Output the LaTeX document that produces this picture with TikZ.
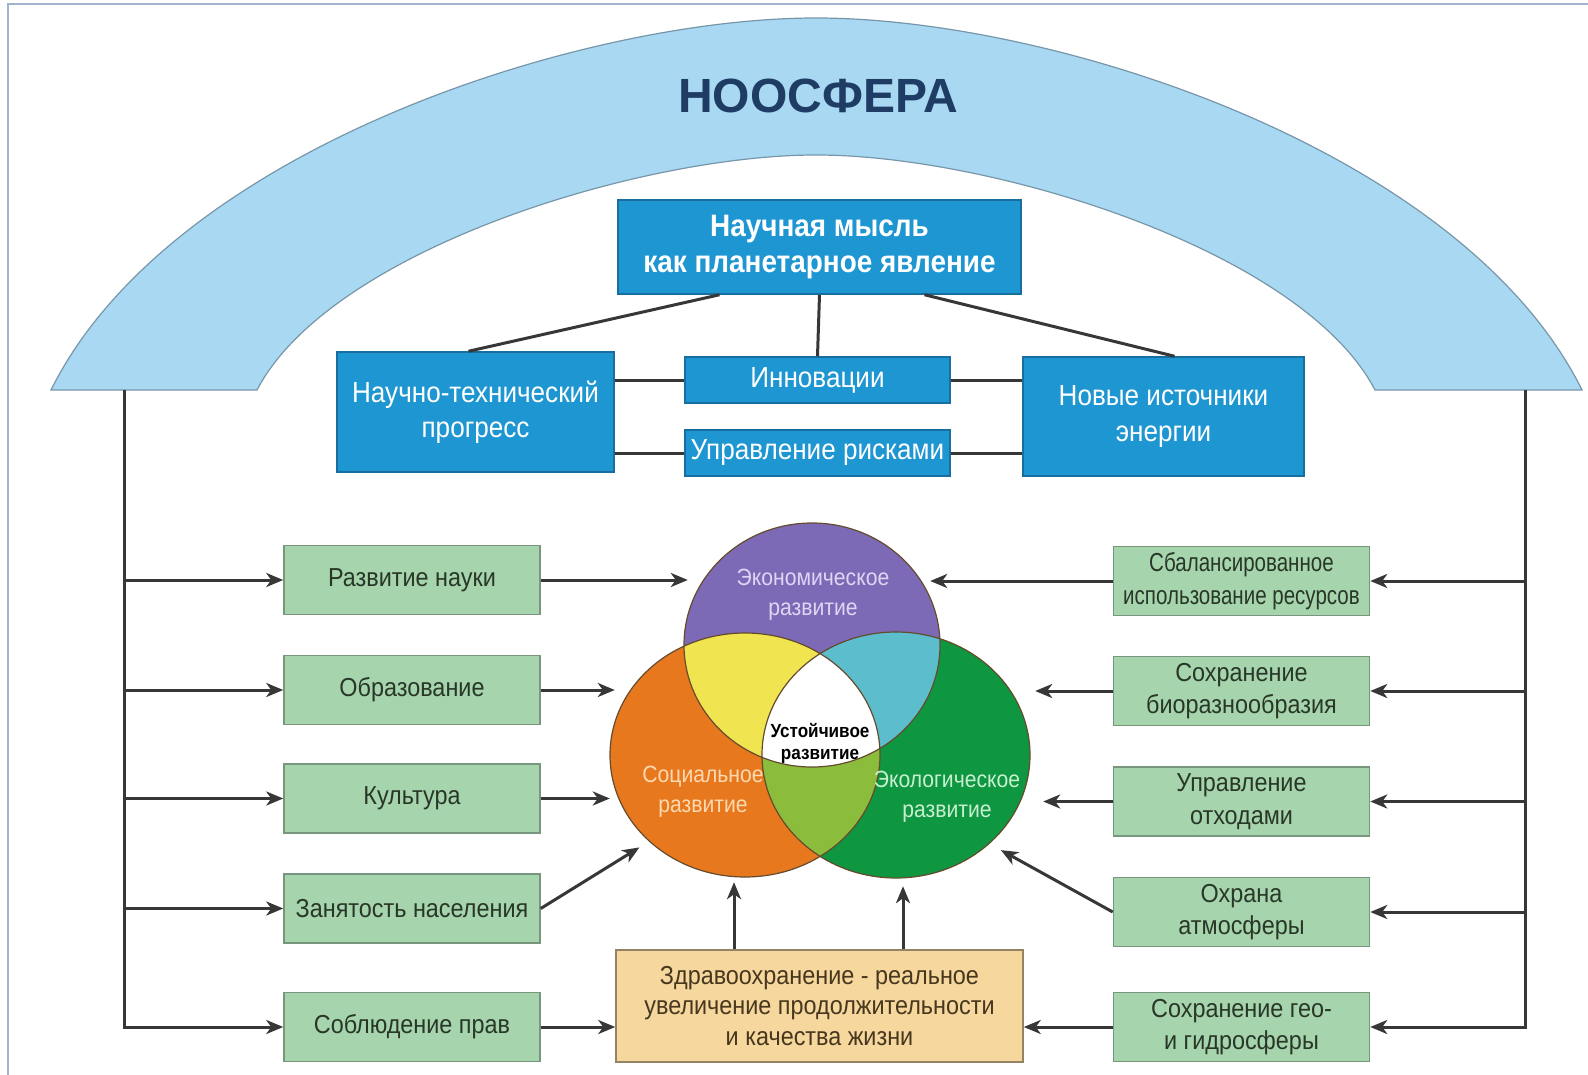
\documentclass[tikz,border=0pt]{standalone}
\usepackage{fontspec}
\setmainfont{Liberation Sans}
\newfontfamily\narrowfont[FakeStretch=0.9]{Liberation Sans}
\newfontfamily\narrowerfont[FakeStretch=0.79]{Liberation Sans}
\usetikzlibrary{arrows.meta,positioning,calc,shapes.geometric}

\definecolor{archblue}{RGB}{168,216,242}
\definecolor{archline}{RGB}{120,150,170}
\definecolor{boxblue}{RGB}{30,150,210}
\definecolor{boxline}{RGB}{25,110,160}
\definecolor{boxgreen}{RGB}{166,212,173}
\definecolor{greenline}{RGB}{120,150,125}
\definecolor{greentxt}{RGB}{40,55,40}
\definecolor{boxtan}{RGB}{246,216,158}
\definecolor{tanline}{RGB}{150,130,100}
\definecolor{tantxt}{RGB}{70,55,30}
\definecolor{wirecol}{RGB}{55,55,55}
\definecolor{ecocol}{RGB}{124,106,182}
\definecolor{soccol}{RGB}{232,120,30}
\definecolor{envcol}{RGB}{14,150,65}
\definecolor{yelcol}{RGB}{240,228,80}
\definecolor{cyancol}{RGB}{92,190,205}
\definecolor{limecol}{RGB}{140,188,60}
\definecolor{vennline}{RGB}{100,75,45}
\definecolor{ecotxt}{RGB}{222,214,245}
\definecolor{soctxt}{RGB}{252,217,176}
\definecolor{envtxt}{RGB}{200,240,208}
\definecolor{titlecol}{RGB}{30,60,100}
\definecolor{framecol}{RGB}{160,180,205}

\begin{document}
\begin{tikzpicture}[x=1pt,y=-1pt,
    bluebox/.style={draw=boxline,line width=1.5pt,fill=boxblue,text=white,align=center,
      inner sep=0pt,font=\narrowfont\fontsize{29}{35.5}\selectfont},
    greenbox/.style={draw=greenline,line width=1.5pt,fill=boxgreen,text=greentxt,align=center,
      inner sep=0pt,minimum width=256pt,minimum height=69pt,font=\narrowfont\fontsize{26}{32.4}\selectfont},
    wire/.style={draw=wirecol,line width=3pt},
    arr/.style={wire,-{Stealth[length=17pt,width=14pt,inset=5pt]}},
    venn/.style={ellipse,inner sep=0pt},
    vennlbl/.style={align=center,font=\narrowfont\fontsize{23.5}{30}\selectfont}]
  \useasboundingbox (0,0) rectangle (1588,1075);
  \draw[framecol,line width=2pt] (8,1075) -- (8,4.5) -- (1588,4.5);

  % arch
  \draw[draw=archline,fill=archblue,line width=1.2pt]
    (51,390) .. controls (170,150) and (580,18) .. (816,18)
    .. controls (1053,18) and (1463,150) .. (1582,390)
    -- (1375,390) .. controls (1302,250) and (992,155) .. (816,155)
    .. controls (640,155) and (330,250) .. (257,390) -- cycle;
  \node[font=\bfseries\fontsize{48}{50}\selectfont,text=titlecol] (noos) at (818,96) {НООСФЕРА};
  \coordinate (lt) at (124,390);
  \coordinate (rt) at (1525,390);

  % blue boxes
  \node[bluebox,font=\narrowfont\bfseries\fontsize{31}{35.5}\selectfont,
    minimum width=403pt,minimum height=94pt] (mysl) at (819.5,247) {Научная мысль\\как планетарное явление};
  \node[bluebox,minimum width=277pt,minimum height=120pt] (ntp) at (475.5,412) {Научно-технический\\прогресс};
  \node[bluebox,minimum width=265pt,minimum height=46pt] (innov) at (817.5,380) {Инновации};
  \node[bluebox,minimum width=265pt,minimum height=46pt] (risk) at (817.5,453) {Управление рисками};
  \node[bluebox,minimum width=281pt,minimum height=119pt] (energ) at (1163.5,416.5) {Новые источники\\энергии};

  \draw[wire] ([xshift=-100pt]mysl.south) -- ([xshift=-7pt]ntp.north);
  \draw[wire] (mysl.south) -- (innov.north);
  \draw[wire] ([xshift=105pt]mysl.south) -- ([xshift=11pt]energ.north);
  \draw[wire] (innov.west -| ntp.east) -- (innov.west);
  \draw[wire] (risk.west -| ntp.east) -- (risk.west);
  \draw[wire] (innov.east) -- (innov.east -| energ.west);
  \draw[wire] (risk.east) -- (risk.east -| energ.west);

  % green boxes
  \node[greenbox] (nauka) at (412,580) {Развитие науки};
  \node[greenbox] (obraz) at (412,690) {Образование};
  \node[greenbox] (kult) at (412,798.5) {Культура};
  \node[greenbox] (zan) at (412,908.5) {Занятость населения};
  \node[greenbox] (prava) at (412,1027) {Соблюдение прав};
  \node[greenbox,font=\narrowerfont\fontsize{26}{32.4}\selectfont] (resurs) at (1241.5,581) {Сбалансированное\\использование ресурсов};
  \node[greenbox] (bio) at (1241.5,691) {Сохранение\\биоразнообразия};
  \node[greenbox] (othod) at (1241.5,801.5) {Управление\\отходами};
  \node[greenbox] (atm) at (1241.5,912) {Охрана\\атмосферы};
  \node[greenbox] (geo) at (1241.5,1027) {Сохранение гео-\\и гидросферы};
  \node[draw=tanline,line width=1.5pt,fill=boxtan,text=tantxt,align=center,inner sep=0pt,
    minimum width=407pt,minimum height=112pt,font=\narrowfont\fontsize{26}{30.4}\selectfont]
    (zdrav) at (819.5,1006) {Здравоохранение - реальное\\увеличение продолжительности\\и качества жизни};

  % venn
  \node[venn,fill=ecocol,minimum width=256pt,minimum height=244pt] (eco) at (812,645) {};
  \node[venn,fill=soccol,minimum width=270pt,minimum height=244pt] (soc) at (745,755) {};
  \node[venn,fill=envcol,minimum width=268pt,minimum height=246pt] (env) at (896,755) {};
  \begin{scope}
    \clip (eco.center) ellipse (128pt and 122pt);
    \fill[yelcol] (soc.center) ellipse (135pt and 122pt);
    \fill[cyancol] (env.center) ellipse (134pt and 123pt);
  \end{scope}
  \begin{scope}
    \clip (soc.center) ellipse (135pt and 122pt);
    \fill[limecol] (env.center) ellipse (134pt and 123pt);
    \clip (env.center) ellipse (134pt and 123pt);
    \fill[white] (eco.center) ellipse (128pt and 122pt);
  \end{scope}
  \draw[vennline,line width=1.2pt] (eco.center) ellipse (128pt and 122pt)
    (soc.center) ellipse (135pt and 122pt) (env.center) ellipse (134pt and 123pt);
  \node[vennlbl,text=ecotxt] (ecolbl) at (813,595) {Экономическое\\развитие};
  \node[vennlbl,text=soctxt] (soclbl) at (703,792) {Социальное\\развитие};
  \node[vennlbl,text=envtxt] (envlbl) at (947,797) {Экологическое\\развитие};
  \node[align=center,font=\narrowfont\bfseries\fontsize{19}{22}\selectfont] (ustlbl) at (820,743) {Устойчивое\\развитие};

  % arrows
  \draw[arr] (lt) |- (prava.west);
  \foreach \b in {nauka,obraz,kult,zan}
    \draw[arr] (\b.west -| lt) -- (\b.west);
  \draw[arr] (rt) |- (geo.east);
  \foreach \b in {resurs,bio,othod,atm}
    \draw[arr] (\b.east -| rt) -- (\b.east);
  \draw[arr] (nauka.east) -- ([xshift=4pt]nauka.east -| eco.west);
  \draw[arr] (obraz.east) -- ([xshift=5pt]obraz.east -| soc.west);
  \draw[arr] (kult.east) -- (kult.east -| soc.west);
  \draw[arr] (zan.east) -- ([xshift=-10pt,yshift=-6pt]soc.south west);
  \draw[arr] (prava.east) -- (prava.east -| zdrav.west);
  \draw[arr] (resurs.west) -- ([xshift=-10pt]resurs.west -| eco.east);
  \draw[arr] (bio.west) -- ([xshift=5pt]bio.west -| env.east);
  \draw[arr] (othod.west) -- ([xshift=13pt]othod.west -| env.east);
  \draw[arr] (atm.west) -- ([xshift=10pt,yshift=-8pt]env.south east);
  \draw[arr] (geo.west) -- (geo.west -| zdrav.east);
  \draw[arr] ([xshift=-11pt]zdrav.north -| soc.south) -- ([xshift=-11pt,yshift=-5pt]soc.south);
  \draw[arr] ([xshift=7pt]zdrav.north -| env.south) -- ([xshift=7pt,yshift=-8pt]env.south);
\end{tikzpicture}
\end{document}
